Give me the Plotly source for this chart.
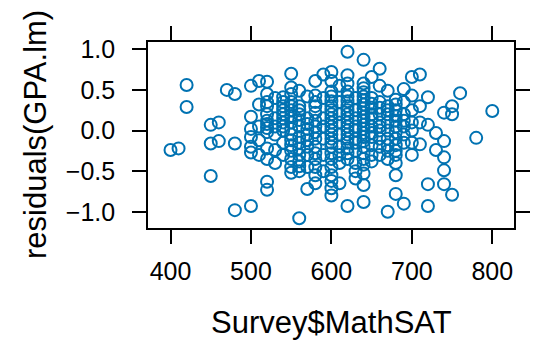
import plotly.graph_objects as go

# Math SAT score for each student
math_sat = [
    400,
    410,
    420, 420,
    450, 450, 450,
    460, 460,
    470,
    480, 480, 480,
    500, 500, 500, 500, 500, 500, 500,
    510, 510, 510, 510, 510,
    520, 520, 520, 520, 520, 520, 520, 520, 520, 520, 520, 520, 520,
    530, 530, 530, 530, 530, 530,
    540, 540, 540, 540, 540, 540, 540, 540, 540, 540, 540,
    550, 550, 550, 550, 550, 550, 550, 550, 550, 550, 550, 550, 550, 550, 550, 550,
    560, 560, 560, 560, 560, 560, 560, 560, 560, 560, 560, 560, 560, 560,
    570, 570, 570, 570, 570, 570, 570, 570, 570, 570,
    580, 580, 580, 580, 580, 580, 580, 580, 580, 580, 580, 580, 580, 580, 580,
    590, 590, 590, 590, 590, 590, 590,
    600, 600, 600, 600, 600, 600, 600, 600, 600, 600, 600, 600, 600, 600, 600, 600, 600, 600, 600, 600, 600, 600, 600,
    610, 610, 610, 610, 610, 610, 610, 610, 610,
    620, 620, 620, 620, 620, 620, 620, 620, 620, 620, 620, 620, 620, 620, 620, 620, 620, 620, 620, 620,
    630, 630, 630, 630, 630, 630, 630, 630, 630, 630, 630,
    640, 640, 640, 640, 640, 640, 640, 640, 640, 640, 640, 640, 640, 640, 640, 640, 640, 640, 640, 640, 640, 640, 640,
    650, 650, 650, 650, 650, 650, 650, 650, 650, 650, 650, 650,
    660, 660, 660, 660, 660, 660, 660, 660, 660, 660, 660,
    670, 670, 670, 670, 670, 670, 670, 670, 670, 670, 670,
    680, 680, 680, 680, 680, 680, 680, 680, 680, 680, 680, 680, 680, 680,
    690, 690, 690, 690, 690, 690, 690, 690,
    700, 700, 700, 700, 700, 700, 700,
    710, 710, 710, 710,
    720, 720, 720, 720,
    730, 730,
    740, 740, 740, 740, 740,
    750, 750, 750,
    760,
    780,
    800,
]

# Residuals of the GPA linear model, same order as math_sat
gpa_residuals = [
    -0.24,
    -0.22,
    0.56, 0.29,
    0.07, -0.16, -0.56,
    0.10, -0.13,
    0.50,
    0.45, -0.16, -0.98,
    0.55, 0.17, 0.02, -0.08, -0.20, -0.27, -0.93,
    0.61, 0.32, 0.05, -0.12, -0.30,
    0.60, 0.45, 0.35, 0.30, 0.20, 0.12, 0.08, 0.03, -0.02, -0.22, -0.35, -0.63, -0.73,
    0.40, 0.15, 0.05, -0.05, -0.24, -0.40,
    0.41, 0.35, 0.30, 0.25, 0.20, 0.15, 0.10, 0.05, 0.00, -0.15, -0.30,
    0.70, 0.53, 0.45, 0.35, 0.30, 0.25, 0.18, 0.10, 0.02, -0.05, -0.12, -0.18, -0.25, -0.35, -0.45, -0.52,
    0.49, 0.30, 0.25, 0.20, 0.13, 0.05, -0.08, -0.15, -0.22, -0.30, -0.38, -0.44, -0.50, -1.08,
    0.42, 0.15, 0.08, 0.02, -0.05, -0.12, -0.20, -0.30, -0.45, -0.72,
    0.61, 0.43, 0.35, 0.30, 0.22, 0.12, 0.05, -0.02, -0.10, -0.20, -0.28, -0.35, -0.45, -0.55, -0.65,
    0.69, 0.40, 0.15, 0.05, -0.10, -0.30, -0.50,
    0.72, 0.61, 0.48, 0.42, 0.36, 0.30, 0.25, 0.20, 0.15, 0.10, 0.05, 0.00, -0.05, -0.10, -0.15, -0.20, -0.28, -0.35, -0.45, -0.55, -0.62, -0.71, -0.80,
    0.55, 0.35, 0.20, 0.10, -0.05, -0.20, -0.30, -0.40, -0.65,
    0.97, 0.68, 0.58, 0.48, 0.42, 0.36, 0.30, 0.25, 0.20, 0.15, 0.10, 0.05, 0.00, -0.05, -0.10, -0.15, -0.22, -0.28, -0.35, -0.93,
    0.40, 0.25, 0.15, 0.05, 0.00, -0.10, -0.15, -0.25, -0.40, -0.50, -0.59,
    0.87, 0.58, 0.52, 0.47, 0.42, 0.37, 0.32, 0.27, 0.22, 0.17, 0.12, 0.07, 0.02, -0.03, -0.08, -0.13, -0.20, -0.28, -0.35, -0.42, -0.53, -0.67, -0.88,
    0.66, 0.40, 0.33, 0.28, 0.20, 0.15, 0.05, -0.03, -0.08, -0.18, -0.30, -0.38,
    0.76, 0.55, 0.35, 0.28, 0.20, 0.10, 0.05, 0.00, -0.10, -0.20, -0.30,
    0.49, 0.30, 0.25, 0.20, 0.10, 0.00, -0.10, -0.18, -0.25, -0.35, -1.00,
    0.38, 0.32, 0.25, 0.18, 0.12, 0.05, -0.02, -0.10, -0.18, -0.25, -0.30, -0.40, -0.55, -0.78,
    0.51, 0.35, 0.20, 0.12, 0.05, -0.05, -0.15, -0.90,
    0.66, 0.43, 0.25, 0.10, 0.00, -0.15, -0.30,
    0.69, 0.30, 0.10, -0.17,
    0.41, 0.07, -0.66, -0.93,
    -0.03, -0.24,
    0.22, -0.13, -0.33, -0.49, -0.66,
    0.30, 0.20, -0.79,
    0.46,
    -0.09,
    0.24,
]

x_ticks = [400, 500, 600, 700, 800]
x_tick_labels = ["400", "500", "600", "700", "800"]
y_ticks = [1.0, 0.5, 0.0, -0.5, -1.0]
y_tick_labels = ["1.0", "0.5", "0.0", "\u22120.5", "\u22121.0"]

assert len(math_sat) == len(gpa_residuals)

FONT = "Liberation Sans, Arial, Helvetica, sans-serif"
W, H = 542, 345
ML, MR, MT, MB = 148, 15, 42, 117
PW, PH = W - ML - MR, H - MT - MB

fig = go.Figure(
    go.Scatter(
        x=math_sat,
        y=gpa_residuals,
        mode="markers",
        marker=dict(symbol="circle-open", size=12, color="#0072B2",
                    line=dict(width=2, color="#0072B2")),
        showlegend=False,
        cliponaxis=False,
    )
)

axis_common = dict(
    showline=True, linecolor="black", linewidth=1.7, mirror="ticks",
    ticks="outside", ticklen=14, tickwidth=1.7, tickcolor="black",
    showgrid=False, zeroline=False,
    tickfont=dict(family=FONT, size=25, color="black"),
)

fig.update_xaxes(range=[372, 827], tickvals=x_ticks, ticktext=x_tick_labels,
                 ticklabelstandoff=6, **axis_common)
fig.update_yaxes(range=[-1.20, 1.09], tickvals=y_ticks, ticktext=y_tick_labels,
                 ticklabelstandoff=12, **axis_common)

fig.update_layout(
    width=W, height=H,
    margin=dict(l=ML, r=MR, t=MT, b=MB, pad=0),
    paper_bgcolor="white", plot_bgcolor="white",
    font=dict(family=FONT, color="black"),
    annotations=[
        dict(text="Survey$MathSAT", xref="paper", yref="paper",
             x=0.5, y=-(322 - (MT + PH)) / PH, xanchor="center", yanchor="middle",
             showarrow=False, font=dict(size=31, family=FONT, color="black")),
        dict(text="residuals(GPA.lm)", xref="paper", yref="paper",
             x=(31 - ML) / PW, y=0.5, xanchor="center", yanchor="middle",
             textangle=-90, showarrow=False,
             font=dict(size=31, family=FONT, color="black")),
    ],
)

fig.write_html("out.html")
